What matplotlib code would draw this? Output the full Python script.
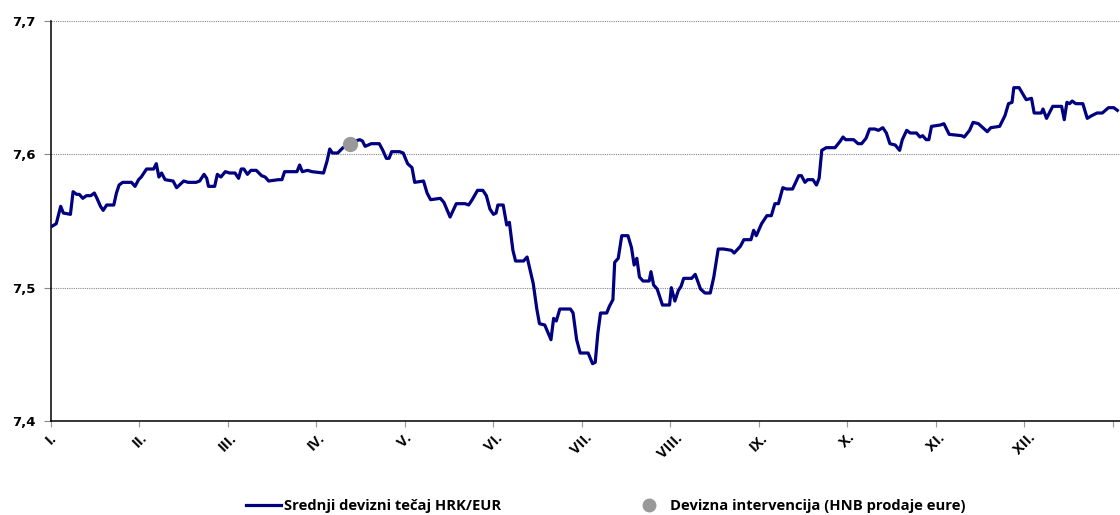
import matplotlib
matplotlib.use("Agg")
import matplotlib.pyplot as plt
from matplotlib.lines import Line2D

# polozaj u godini (u mjesecima od 1.1.) i srednji tecaj HRK/EUR
pozicija = [0.01, 0.06, 0.11, 0.14, 0.22, 0.25, 0.29, 0.32, 0.36, 0.40,
            0.45, 0.49, 0.52, 0.56, 0.59, 0.63, 0.71, 0.74, 0.77, 0.81,
            0.86, 0.91, 0.95, 0.99, 1.02, 1.08, 1.16, 1.19, 1.22, 1.25,
            1.29, 1.38, 1.42, 1.50, 1.55, 1.64, 1.68, 1.73, 1.76, 1.78,
            1.85, 1.88, 1.92, 1.97, 2.02, 2.08, 2.12, 2.15, 2.18, 2.22,
            2.26, 2.32, 2.38, 2.42, 2.46, 2.57, 2.61, 2.64, 2.78, 2.81,
            2.84, 2.90, 2.95, 3.08, 3.12, 3.15, 3.18, 3.24, 3.30, 3.38,
            3.44, 3.49, 3.52, 3.55, 3.62, 3.71, 3.75, 3.79, 3.82, 3.85,
            3.94, 3.98, 4.03, 4.08, 4.11, 4.21, 4.25, 4.29, 4.40, 4.44,
            4.51, 4.58, 4.68, 4.72, 4.76, 4.82, 4.88, 4.92, 4.96, 5.00,
            5.03, 5.05, 5.11, 5.15, 5.18, 5.22, 5.25, 5.34, 5.38, 5.45,
            5.49, 5.52, 5.58, 5.65, 5.68, 5.71, 5.75, 5.87, 5.90, 5.94,
            5.98, 6.07, 6.12, 6.15, 6.18, 6.21, 6.28, 6.31, 6.35, 6.37,
            6.41, 6.45, 6.52, 6.56, 6.59, 6.62, 6.65, 6.69, 6.76, 6.78,
            6.81, 6.85, 6.91, 6.99, 7.01, 7.05, 7.09, 7.12, 7.15, 7.24,
            7.28, 7.34, 7.39, 7.45, 7.49, 7.54, 7.60, 7.69, 7.72, 7.79,
            7.83, 7.91, 7.94, 7.97, 8.03, 8.09, 8.14, 8.18, 8.22, 8.27,
            8.31, 8.38, 8.45, 8.48, 8.52, 8.55, 8.61, 8.65, 8.68, 8.71,
            8.76, 8.86, 8.92, 8.95, 8.98, 9.07, 9.12, 9.16, 9.21, 9.25,
            9.31, 9.35, 9.40, 9.44, 9.48, 9.54, 9.59, 9.62, 9.67, 9.71,
            9.78, 9.82, 9.85, 9.89, 9.92, 9.95, 10.05, 10.09, 10.15, 10.29,
            10.32, 10.38, 10.42, 10.48, 10.58, 10.62, 10.72, 10.78, 10.82, 10.86,
            10.88, 10.94, 11.02, 11.08, 11.11, 11.19, 11.21, 11.25, 11.32, 11.42,
            11.45, 11.48, 11.51, 11.54, 11.58, 11.66, 11.71, 11.76, 11.82, 11.88,
            11.95, 12.01, 12.05]

tecaj = [7.546, 7.548, 7.561, 7.556, 7.555, 7.572, 7.570, 7.570, 7.567, 7.569,
         7.569, 7.571, 7.567, 7.561, 7.558, 7.562, 7.562, 7.571, 7.577, 7.579,
         7.579, 7.579, 7.576, 7.581, 7.583, 7.589, 7.589, 7.593, 7.583, 7.586,
         7.581, 7.580, 7.575, 7.580, 7.579, 7.579, 7.580, 7.585, 7.582, 7.576,
         7.576, 7.585, 7.583, 7.587, 7.586, 7.586, 7.582, 7.589, 7.589, 7.585,
         7.588, 7.588, 7.584, 7.583, 7.580, 7.581, 7.581, 7.587, 7.587, 7.592,
         7.587, 7.588, 7.587, 7.586, 7.595, 7.604, 7.601, 7.601, 7.605, 7.608,
         7.610, 7.611, 7.610, 7.606, 7.608, 7.608, 7.603, 7.597, 7.597, 7.602,
         7.602, 7.601, 7.593, 7.590, 7.579, 7.580, 7.571, 7.566, 7.567, 7.564,
         7.553, 7.563, 7.563, 7.562, 7.566, 7.573, 7.573, 7.569, 7.559, 7.555,
         7.556, 7.562, 7.562, 7.547, 7.549, 7.528, 7.520, 7.520, 7.523, 7.503,
         7.484, 7.473, 7.472, 7.461, 7.477, 7.475, 7.484, 7.484, 7.481, 7.461,
         7.451, 7.451, 7.443, 7.444, 7.466, 7.481, 7.481, 7.486, 7.491, 7.519,
         7.522, 7.539, 7.539, 7.530, 7.517, 7.522, 7.508, 7.505, 7.505, 7.512,
         7.502, 7.499, 7.487, 7.487, 7.500, 7.490, 7.498, 7.501, 7.507, 7.507,
         7.510, 7.499, 7.496, 7.496, 7.508, 7.529, 7.529, 7.528, 7.526, 7.531,
         7.536, 7.536, 7.543, 7.539, 7.548, 7.554, 7.554, 7.563, 7.563, 7.575,
         7.574, 7.574, 7.584, 7.584, 7.579, 7.581, 7.581, 7.577, 7.582, 7.603,
         7.605, 7.605, 7.610, 7.613, 7.611, 7.611, 7.608, 7.608, 7.612, 7.619,
         7.619, 7.618, 7.620, 7.616, 7.608, 7.607, 7.603, 7.611, 7.618, 7.616,
         7.616, 7.613, 7.614, 7.611, 7.611, 7.621, 7.622, 7.623, 7.615, 7.614,
         7.613, 7.618, 7.624, 7.623, 7.617, 7.620, 7.621, 7.629, 7.638, 7.639,
         7.650, 7.650, 7.641, 7.642, 7.631, 7.631, 7.634, 7.627, 7.636, 7.636,
         7.626, 7.639, 7.638, 7.640, 7.638, 7.638, 7.627, 7.629, 7.631, 7.631,
         7.635, 7.635, 7.633]

# devizna intervencija
interv_pozicija = [3.38]
interv_tecaj = [7.608]

mjeseci = ["I.", "II.", "III.", "IV.", "V.", "VI.", "VII.", "VIII.",
           "IX.", "X.", "XI.", "XII."]

fig = plt.figure(figsize=(11.2, 5.15), dpi=100)
ax = fig.add_axes([0.0455, 0.1825, 0.9545, 0.7767])

ax.plot(pozicija, tecaj, color="#000080", linewidth=2.3, zorder=3)
ax.plot(interv_pozicija, interv_tecaj, "o", color="#999999", markersize=10, zorder=4)

ax.set_ylim(7.4, 7.7)
ax.set_xlim(0, 12.08)
ax.set_yticks([7.4, 7.5, 7.6, 7.7])
ax.set_yticklabels(["7,4", "7,5", "7,6", "7,7"], fontsize=9.5, fontweight="bold",
                   family="DejaVu Sans")
ax.set_xticks(range(13))
ax.set_xticklabels(mjeseci + [""], rotation=45, ha="center", fontsize=10.5,
                   fontweight="bold", family="Open Sans")

ax.grid(axis="y", color="#888888", linestyle=(0, (1, 1)), linewidth=0.8, zorder=0)
for s in ["top", "right"]:
    ax.spines[s].set_visible(False)
ax.spines["left"].set_linewidth(1.1)
ax.spines["bottom"].set_linewidth(1.1)
ax.tick_params(axis="y", length=5, color="#888888", pad=6)
ax.tick_params(axis="x", length=4, color="#999999", pad=3)

handles = [Line2D([], [], color="#000080", linewidth=2.3),
           Line2D([], [], marker="o", linestyle="none", color="#999999", markersize=9)]
fig.legend(handles, ["Srednji devizni tečaj HRK/EUR", "Devizna intervencija (HNB prodaje eure)"],
           loc="center", bbox_to_anchor=(0.5406, 0.017), ncol=2, frameon=False,
           handlelength=2.38, handletextpad=0.2, columnspacing=8.87,
           prop={"family": "Open Sans", "weight": "bold", "size": 10.6})

fig.savefig("out.png", dpi=100)
